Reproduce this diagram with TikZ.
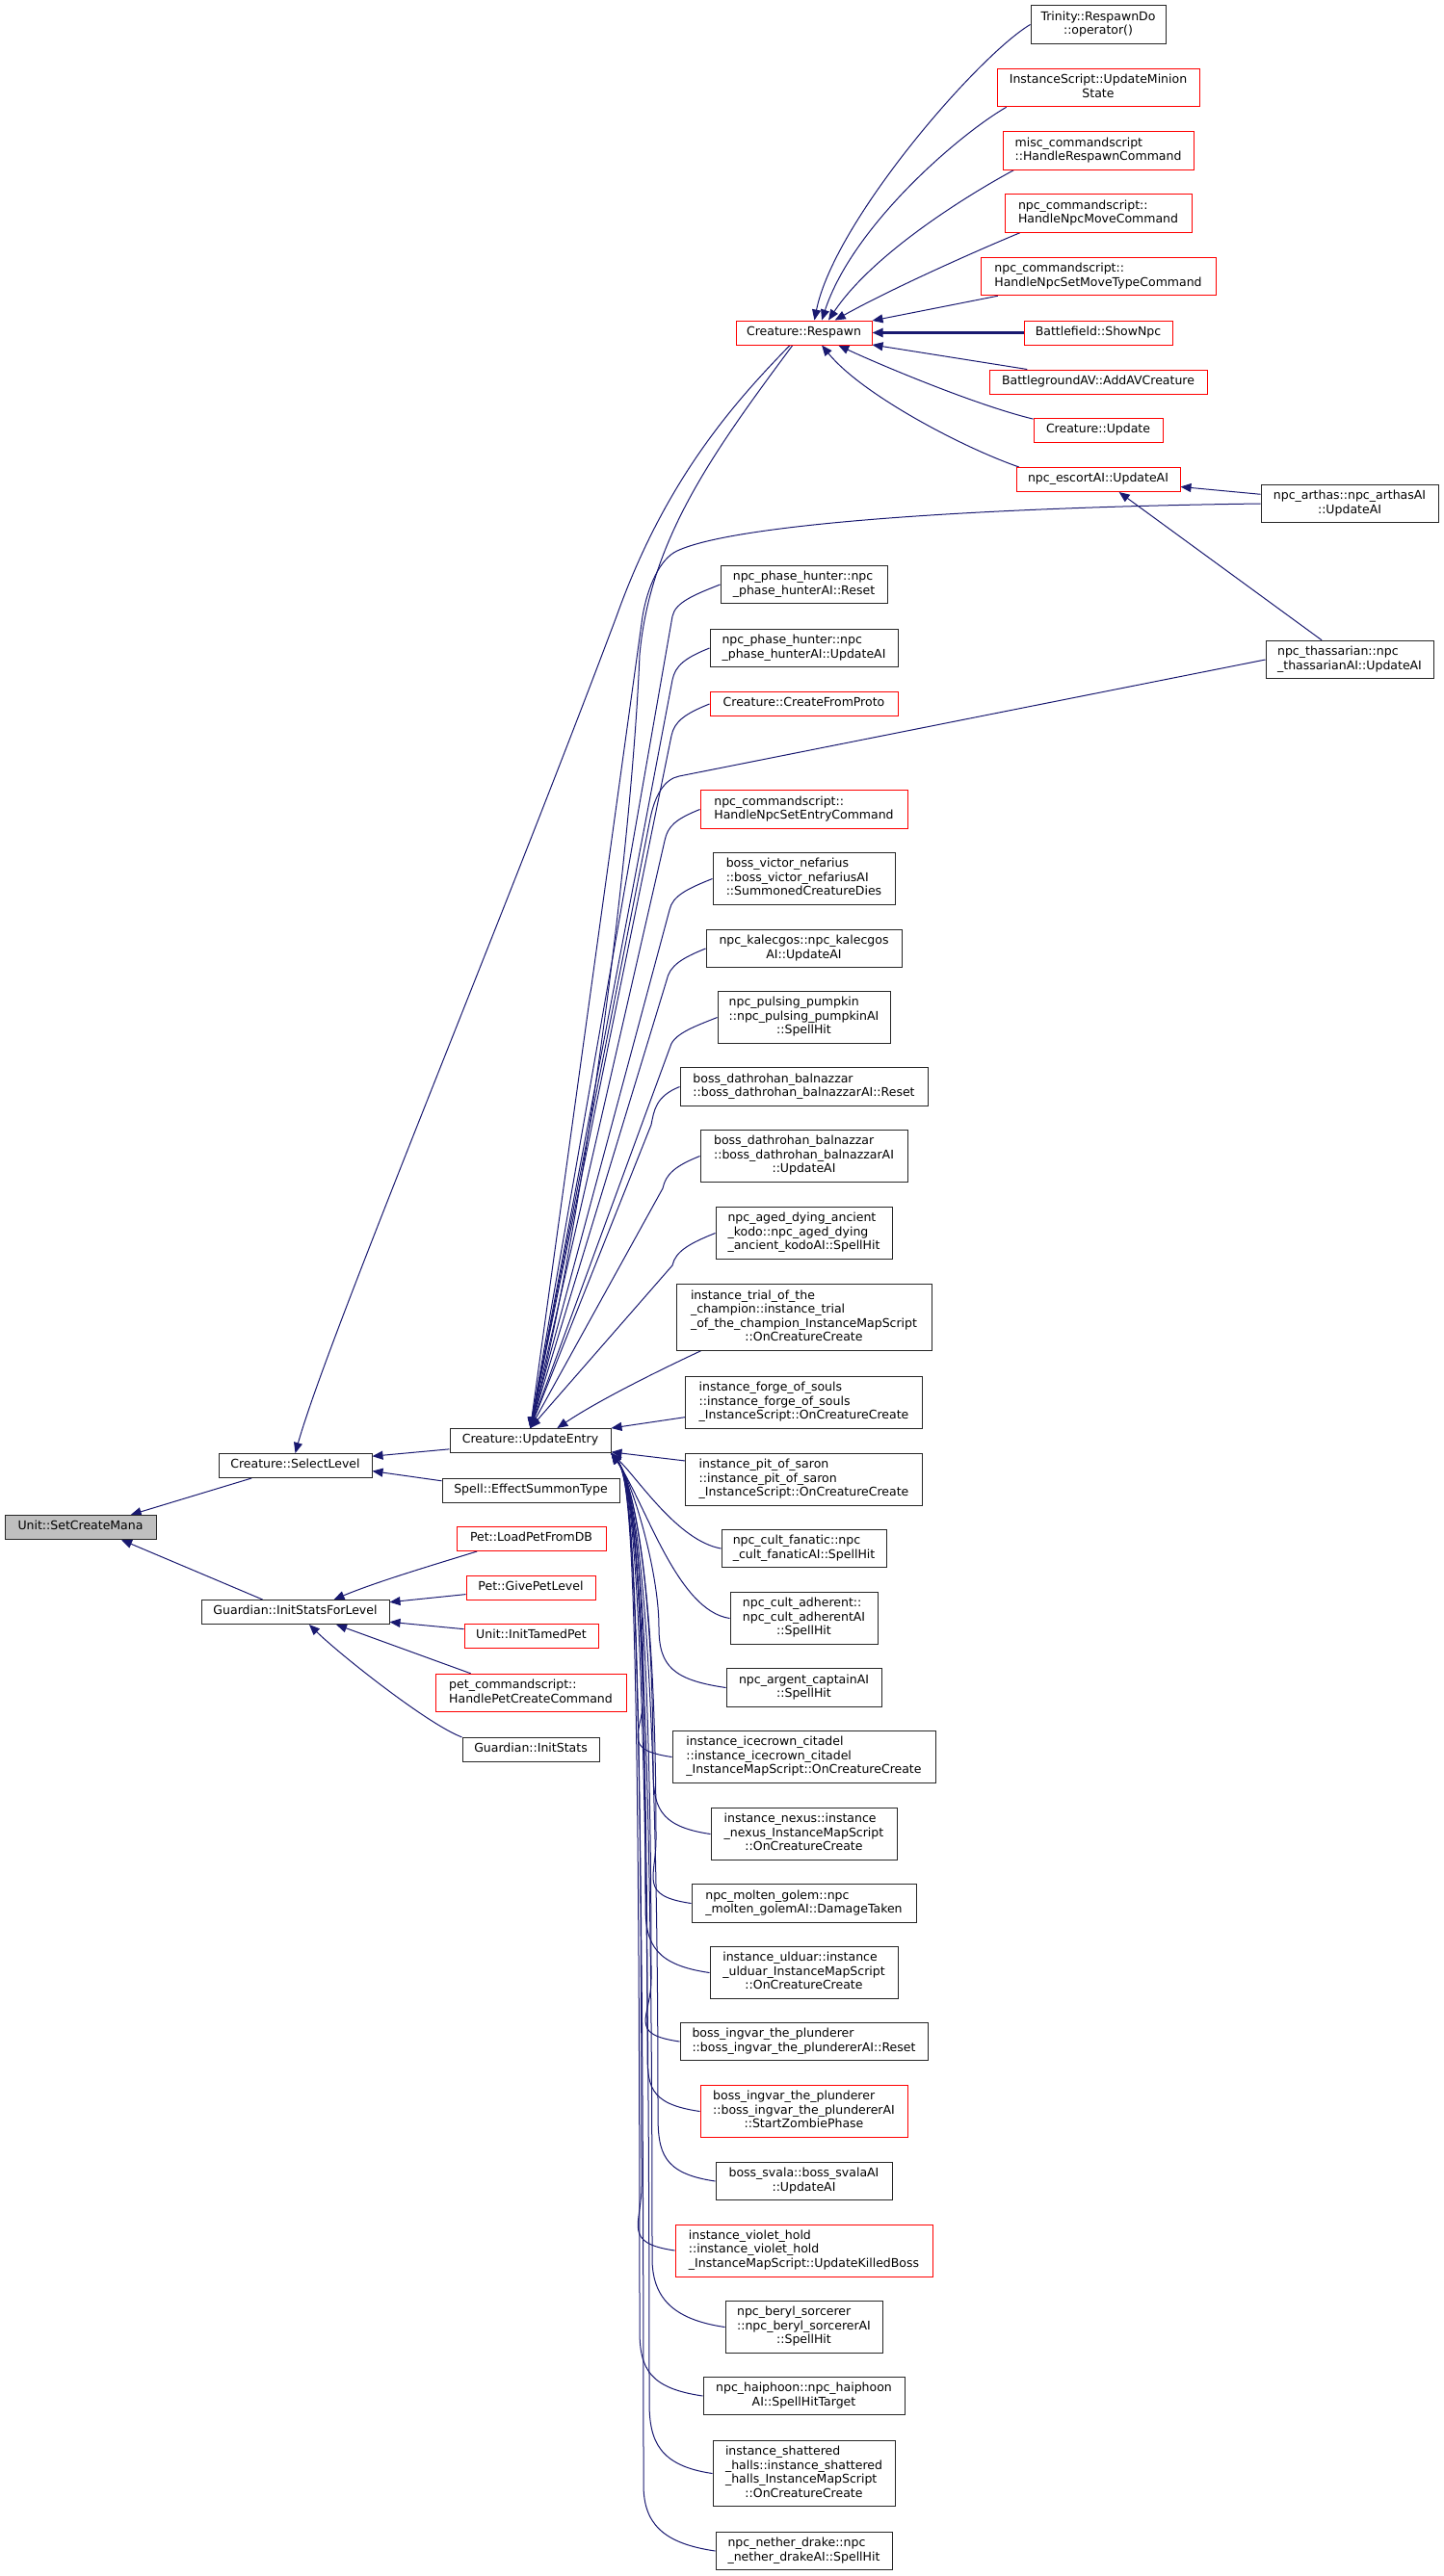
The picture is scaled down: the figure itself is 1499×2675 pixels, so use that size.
\documentclass[tikz,border=0pt]{standalone}
\usepackage{fontspec}
\setmainfont{DejaVu Sans}
\usetikzlibrary{arrows.meta}
\definecolor{edgeblue}{HTML}{191970}
\definecolor{rootgray}{HTML}{BFBFBF}
% left-aligned lines, last line centred
\newcommand{\fl}[1]{\begin{tabular}{@{}l@{}}#1\end{tabular}}
\newcommand{\lc}[1]{\multicolumn{1}{@{}c@{}}{#1}}
\pgfdeclarelayer{edges}
\pgfsetlayers{edges,main}

\begin{document}
\begin{tikzpicture}[x=1pt,y=-1pt]
        \tikzset{
        fn/.style={draw=black!85, line width=1pt, fill=white, inner xsep=4pt,
        inner ysep=5.25pt, font=\fontsize{12.5}{14.5}\selectfont},
        trunc/.style={fn, draw=red},
        rootfn/.style={fn, fill=rootgray},
        call/.style={draw=edgeblue, line width=1pt, -{Triangle[length=11pt,width=9pt]}},
        callw/.style={call, line width=2.4pt}
        }
        \useasboundingbox (0,0) rectangle (1499,2675);

        % left part
        \node[rootfn, minimum width=157] (root) at (83.5,1586) {\fl{Unit::SetCreateMana}};
        \node[fn, minimum width=159] (sel) at (306.5,1522) {\fl{Creature::SelectLevel}};
        \node[fn, minimum width=195] (gisl) at (306.5,1674) {\fl{Guardian::InitStatsForLevel}};
        \node[fn, minimum width=167] (ue) at (550.5,1496) {\fl{Creature::UpdateEntry}};
        \node[fn, minimum width=184] (est) at (551,1547.5) {\fl{Spell::EffectSummonType}};
        \node[trunc, minimum width=155] (lpd) at (551.5,1598) {\fl{Pet::LoadPetFromDB}};
        \node[trunc, minimum width=134] (gpl) at (551,1648.5) {\fl{Pet::GivePetLevel}};
        \node[trunc, minimum width=139] (itp) at (551.5,1699) {\fl{Unit::InitTamedPet}};
        \node[trunc, minimum width=198] (pcs) at (551,1758) {\fl{pet\_commandscript::\\\lc{HandlePetCreateCommand}}};
        \node[fn, minimum width=142] (gis) at (551,1816.5) {\fl{Guardian::InitStats}};

        % callers of Creature::Respawn
        \node[trunc, minimum width=141] (resp) at (834.5,345.5) {\fl{Creature::Respawn}};
        \node[fn, minimum width=140] (tri) at (1140,25.5) {\fl{Trinity::RespawnDo\\\lc{::operator()}}};
        \node[trunc, minimum width=210] (ims) at (1140,91) {\fl{InstanceScript::UpdateMinion\\\lc{State}}};
        \node[trunc, minimum width=198] (misc) at (1140,156.5) {\fl{misc\_commandscript\\\lc{::HandleRespawnCommand}}};
        \node[trunc, minimum width=194] (nmc) at (1140,221.5) {\fl{npc\_commandscript::\\\lc{HandleNpcMoveCommand}}};
        \node[trunc, minimum width=244] (nsmt) at (1140,287) {\fl{npc\_commandscript::\\\lc{HandleNpcSetMoveTypeCommand}}};
        \node[trunc, minimum width=154] (bsn) at (1140,345.5) {\fl{Battlefield::ShowNpc}};
        \node[trunc, minimum width=226] (bav) at (1140,396.5) {\fl{BattlegroundAV::AddAVCreature}};
        \node[trunc, minimum width=134] (cup) at (1140,447) {\fl{Creature::Update}};
        \node[trunc, minimum width=170] (esc) at (1140,498) {\fl{npc\_escortAI::UpdateAI}};
        \node[fn, minimum width=184] (arth) at (1401,523) {\fl{npc\_arthas::npc\_arthasAI\\\lc{::UpdateAI}}};
        \node[fn, minimum width=174] (thas) at (1401,685) {\fl{npc\_thassarian::npc\\\lc{\_thassarianAI::UpdateAI}}};

        % callers of Creature::UpdateEntry
        \node[fn, minimum width=173] (ph1) at (834.5,607) {\fl{npc\_phase\_hunter::npc\\\lc{\_phase\_hunterAI::Reset}}};
        \node[fn, minimum width=195] (ph2) at (834.5,673) {\fl{npc\_phase\_hunter::npc\\\lc{\_phase\_hunterAI::UpdateAI}}};
        \node[trunc, minimum width=195] (cfp) at (834.5,731) {\fl{Creature::CreateFromProto}};
        \node[trunc, minimum width=215] (nse) at (834.5,840.5) {\fl{npc\_commandscript::\\\lc{HandleNpcSetEntryCommand}}};
        \node[fn, minimum width=189] (vic) at (834.5,912.5) {\fl{boss\_victor\_nefarius\\::boss\_victor\_nefariusAI\\\lc{::SummonedCreatureDies}}};
        \node[fn, minimum width=203] (kal) at (834.5,985) {\fl{npc\_kalecgos::npc\_kalecgos\\\lc{AI::UpdateAI}}};
        \node[fn, minimum width=179] (pump) at (834.5,1056.5) {\fl{npc\_pulsing\_pumpkin\\::npc\_pulsing\_pumpkinAI\\\lc{::SpellHit}}};
        \node[fn, minimum width=257] (dathR) at (834.5,1128.5) {\fl{boss\_dathrohan\_balnazzar\\\lc{::boss\_dathrohan\_balnazzarAI::Reset}}};
        \node[fn, minimum width=215] (dathU) at (834.5,1200.5) {\fl{boss\_dathrohan\_balnazzar\\::boss\_dathrohan\_balnazzarAI\\\lc{::UpdateAI}}};
        \node[fn, minimum width=183] (aged) at (834.5,1280.5) {\fl{npc\_aged\_dying\_ancient\\\_kodo::npc\_aged\_dying\\\lc{\_ancient\_kodoAI::SpellHit}}};
        \node[fn, minimum width=265] (trial) at (834.5,1368) {\fl{instance\_trial\_of\_the\\\_champion::instance\_trial\\\_of\_the\_champion\_InstanceMapScript\\\lc{::OnCreatureCreate}}};
        \node[fn, minimum width=246] (forge) at (834.5,1456.5) {\fl{instance\_forge\_of\_souls\\::instance\_forge\_of\_souls\\\lc{\_InstanceScript::OnCreatureCreate}}};
        \node[fn, minimum width=246] (pit) at (834.5,1536.5) {\fl{instance\_pit\_of\_saron\\::instance\_pit\_of\_saron\\\lc{\_InstanceScript::OnCreatureCreate}}};
        \node[fn, minimum width=171] (fan) at (834.5,1608) {\fl{npc\_cult\_fanatic::npc\\\lc{\_cult\_fanaticAI::SpellHit}}};
        \node[fn, minimum width=153] (adh) at (834.5,1680.5) {\fl{npc\_cult\_adherent::\\npc\_cult\_adherentAI\\\lc{::SpellHit}}};
        \node[fn, minimum width=161] (arg) at (834.5,1752.5) {\fl{npc\_argent\_captainAI\\\lc{::SpellHit}}};
        \node[fn, minimum width=273] (icc) at (834.5,1824.5) {\fl{instance\_icecrown\_citadel\\::instance\_icecrown\_citadel\\\lc{\_InstanceMapScript::OnCreatureCreate}}};
        \node[fn, minimum width=193] (nex) at (834.5,1904.5) {\fl{instance\_nexus::instance\\\_nexus\_InstanceMapScript\\\lc{::OnCreatureCreate}}};
        \node[fn, minimum width=233] (mol) at (834.5,1976.5) {\fl{npc\_molten\_golem::npc\\\lc{\_molten\_golemAI::DamageTaken}}};
        \node[fn, minimum width=195] (uld) at (834.5,2048.5) {\fl{instance\_ulduar::instance\\\_ulduar\_InstanceMapScript\\\lc{::OnCreatureCreate}}};
        \node[fn, minimum width=257] (ingR) at (834.5,2120) {\fl{boss\_ingvar\_the\_plunderer\\\lc{::boss\_ingvar\_the\_plundererAI::Reset}}};
        \node[trunc, minimum width=215] (ingZ) at (834.5,2192.5) {\fl{boss\_ingvar\_the\_plunderer\\::boss\_ingvar\_the\_plundererAI\\\lc{::StartZombiePhase}}};
        \node[fn, minimum width=183] (sva) at (834.5,2265) {\fl{boss\_svala::boss\_svalaAI\\\lc{::UpdateAI}}};
        \node[trunc, minimum width=267] (vio) at (834.5,2337) {\fl{instance\_violet\_hold\\::instance\_violet\_hold\\\lc{\_InstanceMapScript::UpdateKilledBoss}}};
        \node[fn, minimum width=163] (ber) at (834.5,2416.5) {\fl{npc\_beryl\_sorcerer\\::npc\_beryl\_sorcererAI\\\lc{::SpellHit}}};
        \node[fn, minimum width=209] (hai) at (834.5,2488) {\fl{npc\_haiphoon::npc\_haiphoon\\\lc{AI::SpellHitTarget}}};
        \node[fn, minimum width=189] (sha) at (834.5,2568.5) {\fl{instance\_shattered\\\_halls::instance\_shattered\\\_halls\_InstanceMapScript\\\lc{::OnCreatureCreate}}};
        \node[fn, minimum width=183] (net) at (834.5,2649) {\fl{npc\_nether\_drake::npc\\\lc{\_nether\_drakeAI::SpellHit}}};

        \begin{pgfonlayer}{edges}
        % edges, left part
        \draw[call] (sel.196) -- (root.14);
        \draw[call] (gisl.159) -- (root.-17);
        \draw[call] (ue.186) -- (sel.7);
        \draw[call] (est.174) -- (sel.-4);
        \draw[call] (lpd.193) .. controls (440,1628) and (390,1643) .. (gisl.18);
        \draw[call] (gpl.186) -- (gisl.6);
        \draw[call] (itp.174) -- (gisl.-6);
        \draw[call] (pcs.162) -- (gisl.-17);
        \draw[call] (gis.170) .. controls (445,1791) and (355,1720) .. (gisl.-42);

        % edges into Creature::Respawn
        \draw[call] (tri.west) .. controls (1015,58) and (866,230) .. (resp.50);
        \draw[call] (ims.192) .. controls (995,140) and (885,235) .. (resp.35);
        \draw[call] (misc.193) .. controls (1000,205) and (905,265) .. (resp.27);
        \draw[call] (nmc.194) .. controls (1010,262) and (925,300) .. (resp.22);
        \draw[call] (nsmt.191) -- (resp.10);
        \draw[callw] (bsn.west) -- (resp.east);
        \draw[call] (bav.170) -- (resp.-10);
        \draw[call] (cup.170) .. controls (1010,420) and (905,375) .. (resp.-20);
        \draw[call] (esc.171) .. controls (1000,465) and (895,410) .. (resp.-35);
        \draw[call] (arth.174) -- (esc.-5);
        \draw[call] (thas.145) -- (esc.-31);

        % Creature::Respawn to the left part
        \draw[call] (resp.222) .. controls (760,420) and (690,500) .. (640,640)
                .. controls (520,960) and (340,1390) .. (sel.north);
        \draw[call] (resp.228) .. controls (740,470) and (675,560) .. (664,680)
                .. controls (655,900) and (600,1300) .. (ue.north);
        \draw[call] (arth.west) .. controls (1000,527) and (760,545) .. (703,572)
                .. controls (685,580) and (672,610) .. (667,640) -- (ue.north);
        \draw[call] (thas.west) -- (705,806) .. controls (690,809) and (680,825) .. (675,850) -- (ue.north);

        % edges into Creature::UpdateEntry
        \foreach \n/\kx/\ky in {ph1/698/640, ph2/698/706, cfp/697/764, nse/690/873,
                vic/695/945, kal/692/1018, pump/695/1089, dathR/676/1168,
                dathU/688/1234, aged/698/1314}
                \draw[call] (\n.west) .. controls +(-25,10) and +(3,-15) .. (\kx,\ky) -- (ue.north);
        \draw[call] (trial.198) .. controls (680,1425) and (620,1455) .. (ue.25);
        \draw[call] (forge.187) -- (ue.north east);
        \draw[call] (pit.171) -- (ue.-8);
        \draw[call] (fan.west) .. controls +(-45,-8) and (662,1535) .. (ue.south east);
        \draw[call] (adh.west) .. controls +(-55,-8) and (670,1560) .. (ue.south east);
        \foreach \n/\kx/\ky in {arg/684/1690, icc/668/1760,
                nex/678/1835, mol/681/1910, uld/670/1980, ingR/676/2055,
                ingZ/672/2125, sva/683/2195, vio/666/2270, ber/677/2345,
                hai/664/2420, sha/674/2495, net/668/2580}
                \draw[call] (\n.west) .. controls +(-55,-8) and +(0,40) .. (\kx,\ky)
                        .. controls (\kx,1630) and (655,1535) .. (ue.south east);
        \end{pgfonlayer}
\end{tikzpicture}
\end{document}
